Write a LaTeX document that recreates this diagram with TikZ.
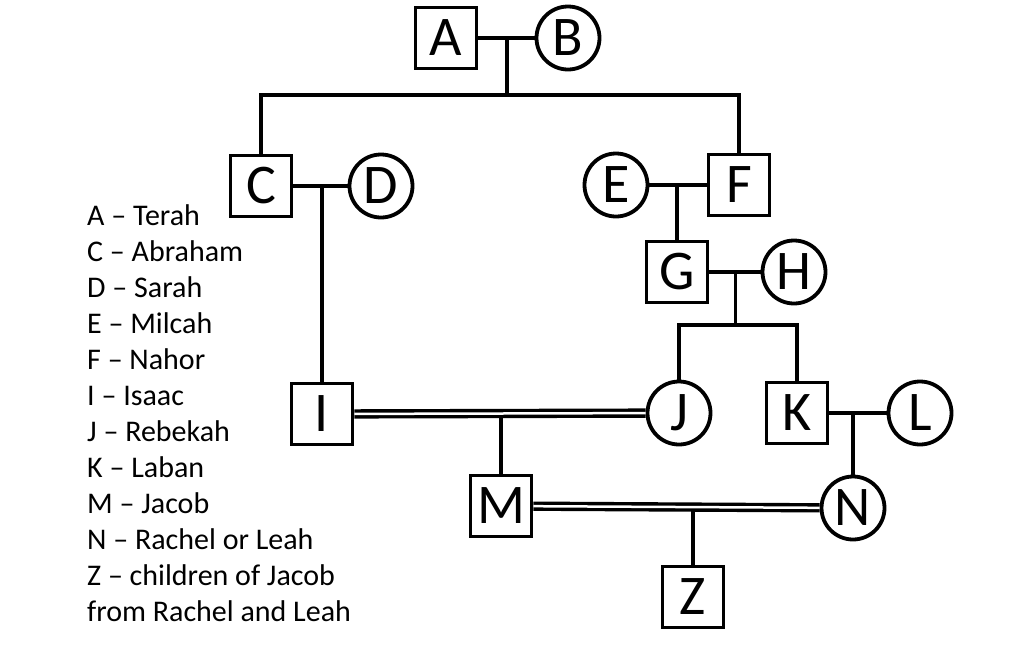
\documentclass[tikz,border=0pt]{standalone}
\usepackage{fontspec}
\setmainfont{Carlito}
\usetikzlibrary{positioning,calc}
\tikzstyle{male} = [draw,rectangle,line width=3.8pt,minimum size=61pt,inner sep=0pt,font=\fontsize{56}{56}\selectfont]
\tikzstyle{female} = [draw,circle,line width=3.8pt,minimum size=63pt,inner sep=0pt,font=\fontsize{56}{56}\selectfont]
\tikzstyle{line} = [draw,line width=3.8pt]
\tikzstyle{marriage} = [draw,line width=3.4pt,double,double distance=2.5pt]

\begin{document}
\begin{tikzpicture}[x=1pt,y=-1pt,on grid]
   \useasboundingbox (0,0) rectangle (1009,646);
   % people
   \node[male] (A) at (446,38) {A};
   \node[female] (B) [right=122pt of A] {B};
   \node[male] (C) at (261,186) {C};
   \node[female] (D) [right=120pt of C] {D};
   \node[female] (E) at (616,185) {E};
   \node[male] (F) [right=123pt of E] {F};
   \node[male] (G) at (677,272) {G};
   \node[female] (H) [right=117pt of G] {H};
   \node[male] (I) at (322,414) {I};
   \node[female] (J) at (679,413) {J};
   \node[male] (K) [right=118pt of J] {K};
   \node[female] (L) [right=123pt of K] {L};
   \node[male] (M) at (501,506) {M};
   \node[female] (N) at (853,508) {N};
   \node[male] (Z) at (693,597) {Z};

   % key
   \node[anchor=north west,align=left,inner sep=0pt,font=\fontsize{30}{36}\selectfont] (key) at (87,204)
      {A -- Terah\\C -- Abraham\\D -- Sarah\\E -- Milcah\\F -- Nahor\\I -- Isaac\\J -- Rebekah\\K -- Laban\\M -- Jacob\\N -- Rachel or Leah\\Z -- children of Jacob\\from Rachel and Leah};

   % bars
   \coordinate (top) at (0,95);
   \coordinate (mid) at (0,325);
   \coordinate (ab) at ($(A)!.5!(B)$);
   \coordinate (gh) at ($(G)!.5!(H)$);

   \path[line] (A) -- (B);
   \path[line] (ab) -- (ab |- top);
   \path[line] (C.north) |- (ab |- top) -| (F.north);
   \path[line] (C) -- (D);
   \path[line] (I) -- (I |- C);
   \path[line] (E) -- (F);
   \path[line] (G) -- (G |- E);
   \path[line] (G) -- (H);
   \path[line] (gh) -- (gh |- mid);
   \path[line] (J.north) |- (gh |- mid) -| (K.north);
   \path[line] (K) -- (L);
   \path[line] (N) -- (N |- K);
   \path[line] (M) -- (M |- I);
   \path[line] (Z) -- (Z |- M);
   \path[marriage] (I) -- (J);
   \path[marriage] (M) -- (N);
\end{tikzpicture}
\end{document}
